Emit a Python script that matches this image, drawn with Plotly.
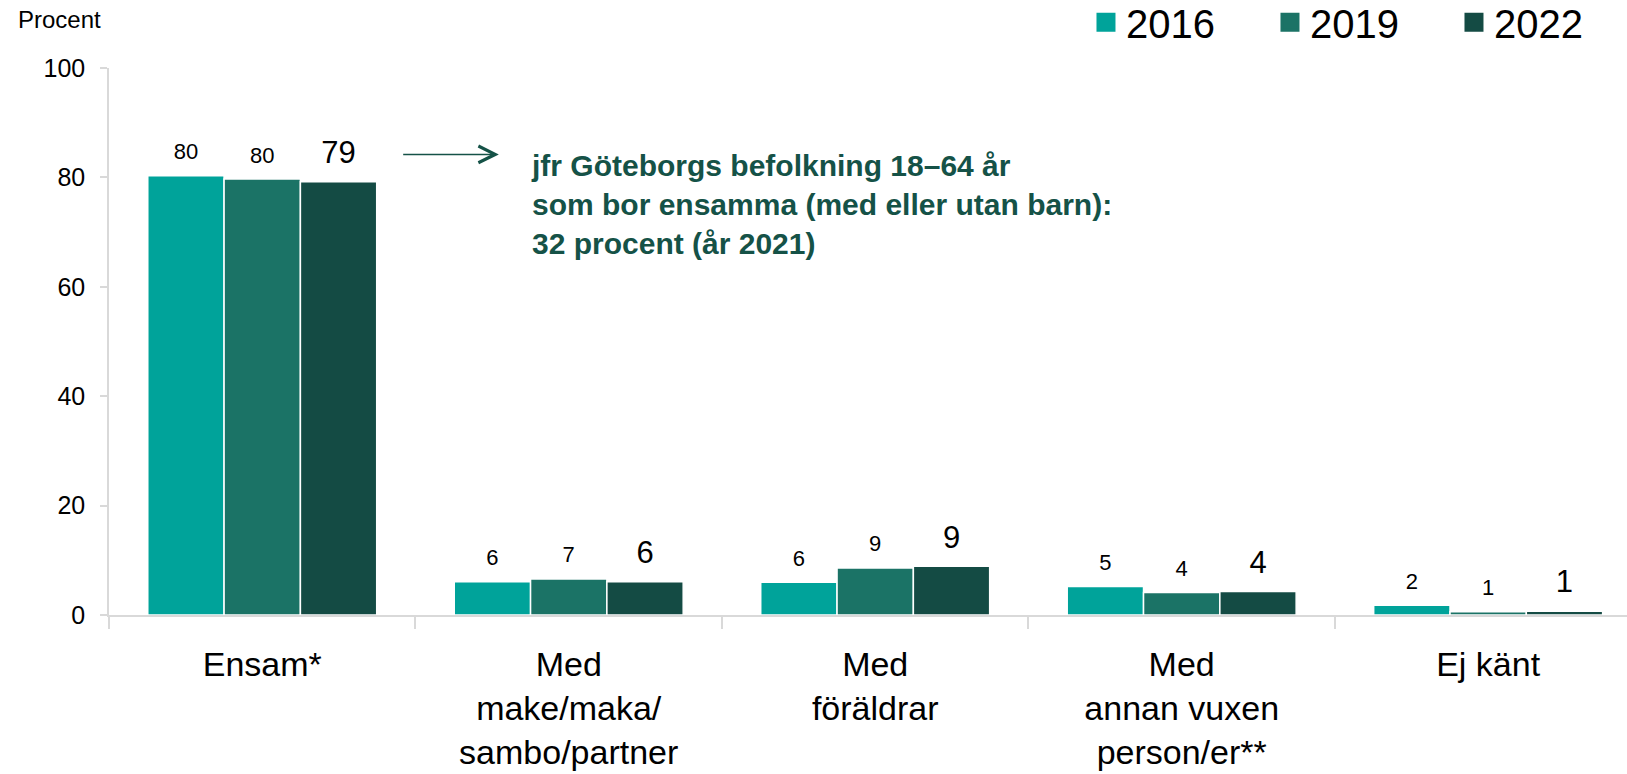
import plotly.graph_objects as go

categories = ["Ensam*", "Med<br>make/maka/<br>sambo/partner", "Med<br>föräldrar",
              "Med<br>annan vuxen<br>person/er**", "Ej känt"]
years = ["2016", "2019", "2022"]
values_2016 = [80.3, 6.1, 6.0, 5.2, 1.8]
values_2019 = [79.7, 6.6, 8.6, 4.1, 0.6]
values_2022 = [79.2, 6.1, 8.9, 4.3, 0.7]
colors = ["#00A39A", "#1B7366", "#144B44"]
label_sizes = [22, 22, 31]

series = [values_2016, values_2019, values_2022]
font = "Liberation Sans, Arial, sans-serif"

fig = go.Figure()

for year, vals, col, size in zip(years, series, colors, label_sizes):
    fig.add_trace(go.Bar(
        x=categories, y=vals, name=year, marker_color=col,
        marker_line=dict(color="white", width=1.5),
        offsetgroup=year, showlegend=False, hoverinfo="skip",
    ))
    # value labels, lifted a little above the bars
    fig.add_trace(go.Scatter(
        x=categories, y=vals, mode="markers+text",
        text=[f"{v:.0f}" for v in vals], textposition="top center",
        textfont=dict(family=font, size=size, color="#000000"),
        marker=dict(size=16, color="rgba(0,0,0,0)"),
        offsetgroup=year, showlegend=False, hoverinfo="skip", cliponaxis=False,
    ))
    # legend entry with a larger square
    fig.add_trace(go.Scatter(
        x=[None], y=[None], mode="markers", name=year,
        marker=dict(symbol="square", size=16, color=col, line=dict(color=col, width=3)),
        offsetgroup=year,
    ))

fig.add_annotation(
    x=0.87, y=85.6, xref="x", yref="y", xanchor="left", yanchor="top",
    text="jfr Göteborgs befolkning 18–64 år<br>som bor ensamma (med eller utan barn):<br>32 procent (år 2021)",
    showarrow=False, align="left",
    font=dict(family=font, size=30, color="#155247", weight="bold"),
)
fig.add_annotation(
    x=0.772, y=84.2, ax=0.455, ay=84.2, xref="x", yref="y", axref="x", ayref="y",
    text="", showarrow=True, arrowhead=5, arrowsize=2.2, arrowwidth=1.5, arrowcolor="#155247",
)
fig.add_annotation(
    x=-0.061, y=1.088, xref="paper", yref="paper", xanchor="left", yanchor="middle",
    text="Procent", showarrow=False, font=dict(family=font, size=24, color="#000000"),
)

fig.update_layout(
    width=1627, height=774,
    margin=dict(l=109, r=0, t=68, b=159, autoexpand=False),
    paper_bgcolor="white", plot_bgcolor="white",
    barmode="group", bargap=0.253, bargroupgap=0,
    scattermode="group", scattergap=0.253,
    font=dict(family=font, color="#000000"),
    legend=dict(
        orientation="h", x=0.6436, xanchor="left", y=1.143, yanchor="top",
        font=dict(family=font, size=40), entrywidth=139, itemclick=False,
    ),
)
fig.update_xaxes(
    type="category", range=[-0.5, 4.453], automargin=False,
    showline=True, linecolor="#D9D9D9", linewidth=2,
    ticks="outside", tickson="boundaries", ticklen=12, tickcolor="#D9D9D9", tickwidth=1.5,
    tickfont=dict(family=font, size=34), ticklabelstandoff=18,
    showgrid=False,
)
fig.update_yaxes(
    range=[0, 100], tickvals=[0, 20, 40, 60, 80, 100], automargin=False,
    showline=True, linecolor="#D9D9D9", linewidth=1.5,
    ticks="outside", ticklen=7, tickcolor="#D9D9D9", tickwidth=1.5,
    tickfont=dict(family=font, size=25), ticklabelstandoff=10,
    showgrid=False, zeroline=False,
)

# drop the page's default body margin so the figure sits at the window corner
fig.write_html("out.html", config={"displayModeBar": False},
               post_script="document.body.style.margin='0';")
